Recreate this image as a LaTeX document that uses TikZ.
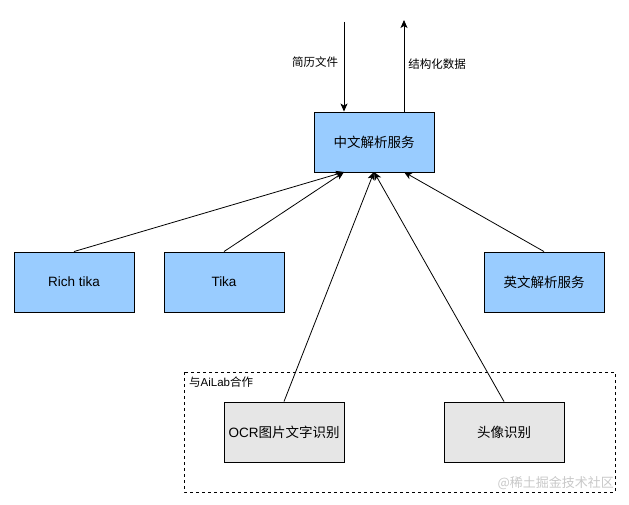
\documentclass[tikz,border=0pt]{standalone}
\usepackage{fontspec}
\setmainfont{Liberation Sans}
\newfontfamily\cjk{Noto Sans CJK SC}
\usetikzlibrary{arrows.meta}
\definecolor{bluefill}{HTML}{99CCFF}
\definecolor{greyfill}{HTML}{E6E6E6}
\definecolor{wm}{HTML}{C8C8C8}
\begin{document}
\begin{tikzpicture}[x=1pt,y=-1pt,
  box/.style={draw=black,line width=0.9pt,minimum width=120pt,minimum height=60pt,inner sep=0pt,font=\fontsize{13.5}{15}\selectfont},
  bbox/.style={box,fill=bluefill},
  gbox/.style={box,fill=greyfill},
  conn/.style={line width=0.8pt,-{Stealth[length=8pt,width=7pt,inset=2pt]}},
  lbl/.style={font=\cjk\fontsize{11.5}{13}\selectfont,inner sep=0pt}]
\useasboundingbox (0,0) rectangle (629,505);
\node[bbox] (cn) at (374,142) {\cjk 中文解析服务};
\node[bbox] (rich) at (74,282) {Rich tika};
\node[bbox] (tika) at (224,282) {Tika};
\node[bbox] (en) at (544,282) {\cjk 英文解析服务};
\draw[dashed,line width=0.8pt] (184,372) rectangle (615,492);
\node[lbl,anchor=west] (ai) at (189,382) {与{\rmfamily AiLab}合作};
\node[gbox] (ocr) at (284,432) {OCR{\cjk 图片文字识别}};
\node[gbox] (face) at (504,432) {\cjk 头像识别};
\coordinate (inTop) at (344,22);
\coordinate (outTop) at (404,20);
\draw[conn] (inTop) -- (cn.north -| inTop);
\draw[conn] (cn.north -| outTop) -- (outTop);
\node[lbl] (l1) at (315,62) {简历文件};
\node[lbl] (l2) at (437,64) {结构化数据};
\coordinate (p1) at (344,172);
\coordinate (p2) at (374,172);
\coordinate (p3) at (404,172);
\draw[conn] (rich.north) -- (p1);
\draw[conn] (tika.north) -- (p1);
\draw[conn] (ocr.north) -- (p2);
\draw[conn] (face.north) -- (p2);
\draw[conn] (en.north) -- (p3);
\node[font=\cjk\fontsize{13}{14}\selectfont,text=wm,inner sep=0pt,anchor=east] (wmk) at (614,483) {@稀土掘金技术社区};
\end{tikzpicture}
\end{document}
